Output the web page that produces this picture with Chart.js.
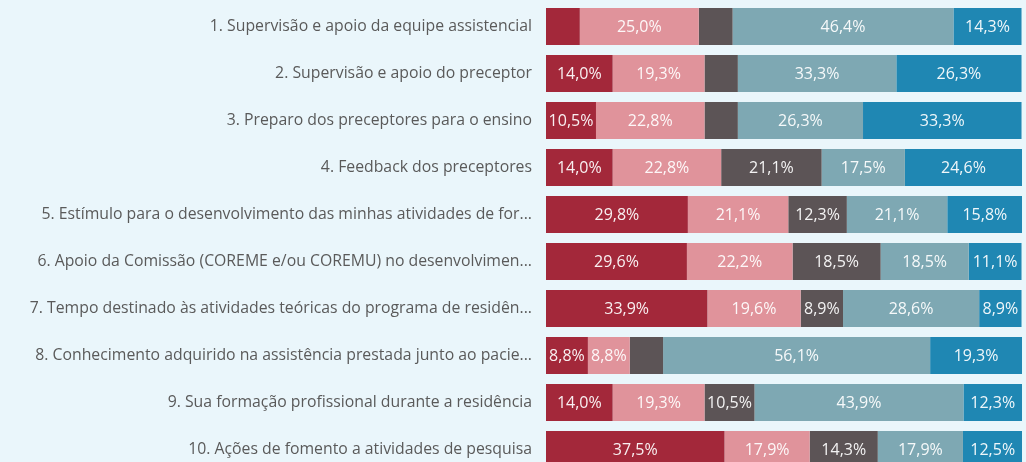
<!DOCTYPE html>
<html lang="pt-BR">
<head>
<meta charset="utf-8">
<title>Avaliação da residência</title>
<script src="https://cdn.jsdelivr.net/npm/chart.js@4.4.1/dist/chart.umd.min.js"></script>
<style>
  html, body { margin: 0; padding: 0; overflow: hidden; background: #eaf6fb; }
  canvas { display: block; }
</style>
</head>
<body>
<canvas id="grafico" width="1022" height="473"></canvas>
<script>
// categorias (rótulos do eixo, já truncados como no painel)
const categorias = [
  '1. Supervisão e apoio da equipe assistencial',
  '2. Supervisão e apoio do preceptor',
  '3. Preparo dos preceptores para o ensino',
  '4. Feedback dos preceptores',
  '5. Estímulo para o desenvolvimento das minhas atividades de for...',
  '6. Apoio da Comissão (COREME e/ou COREMU) no desenvolvimen...',
  '7. Tempo destinado às atividades teóricas do programa de residên...',
  '8. Conhecimento adquirido na assistência prestada junto ao pacie...',
  '9. Sua formação profissional durante a residência',
  '10. Ações de fomento a atividades de pesquisa',
];

// percentuais de cada faixa de resposta
const serie1 = [7.1, 14.0, 10.5, 14.0, 29.8, 29.6, 33.9, 8.8, 14.0, 37.5];
const serie2 = [25.0, 19.3, 22.8, 22.8, 21.1, 22.2, 19.6, 8.8, 19.3, 17.9];
const serie3 = [7.1, 7.0, 7.0, 21.1, 12.3, 18.5, 8.9, 7.0, 10.5, 14.3];
const serie4 = [46.4, 33.3, 26.3, 17.5, 21.1, 18.5, 28.6, 56.1, 43.9, 17.9];
const serie5 = [14.3, 26.3, 33.3, 24.6, 15.8, 11.1, 8.9, 19.3, 12.3, 12.5];

const cores = ['#a3283a', '#e0939b', '#5c5456', '#7ea8b3', '#1f87b3'];
const FONTE = '"Segoe UI", "Open Sans", "Noto Sans", sans-serif';

// escreve o percentual no meio de cada segmento (some se for pequeno demais)
const rotulosPlugin = {
  id: 'rotulos',
  afterDatasetsDraw(chart) {
    const ctx = chart.ctx;
    ctx.save();
    ctx.font = '16px ' + FONTE;
    ctx.fillStyle = 'rgba(255,255,255,0.93)';
    ctx.textAlign = 'center';
    ctx.textBaseline = 'middle';
    chart.data.datasets.forEach((ds, i) => {
      const meta = chart.getDatasetMeta(i);
      meta.data.forEach((bar, j) => {
        const v = ds.data[j];
        if (v < 8) return;
        const txt = v.toFixed(1).replace('.', ',') + '%';
        ctx.fillText(txt, (bar.x + bar.base) / 2, bar.y + 1);
      });
    });
    ctx.restore();
  },
};

const datasets = [serie1, serie2, serie3, serie4, serie5].map((d, i) => ({
  label: 'Faixa ' + (i + 1),
  data: d,
  backgroundColor: cores[i],
  borderWidth: 0,
  barPercentage: 0.79,
  categoryPercentage: 1,
}));

new Chart(document.getElementById('grafico'), {
  type: 'bar',
  data: { labels: categorias, datasets },
  options: {
    indexAxis: 'y',
    responsive: false,
    animation: false,
    layout: { padding: { top: 3, bottom: 0, left: 0, right: 0 } },
    plugins: {
      legend: { display: false },
      tooltip: { enabled: false },
    },
    scales: {
      x: {
        stacked: true,
        min: 0,
        max: 100,
        display: false,
      },
      y: {
        stacked: true,
        border: { display: false },
        grid: { display: false, drawTicks: false },
        ticks: {
          padding: 14,
          color: '#5a5a5a',
          font: { family: FONTE, size: 15.8 },
        },
        // largura fixa do eixo e sem folga em cima/embaixo
        afterFit: (scale) => {
          scale.width = 546;
          scale.paddingTop = 0;
          scale.paddingBottom = 0;
        },
      },
    },
  },
  plugins: [rotulosPlugin],
});
</script>
</body>
</html>
